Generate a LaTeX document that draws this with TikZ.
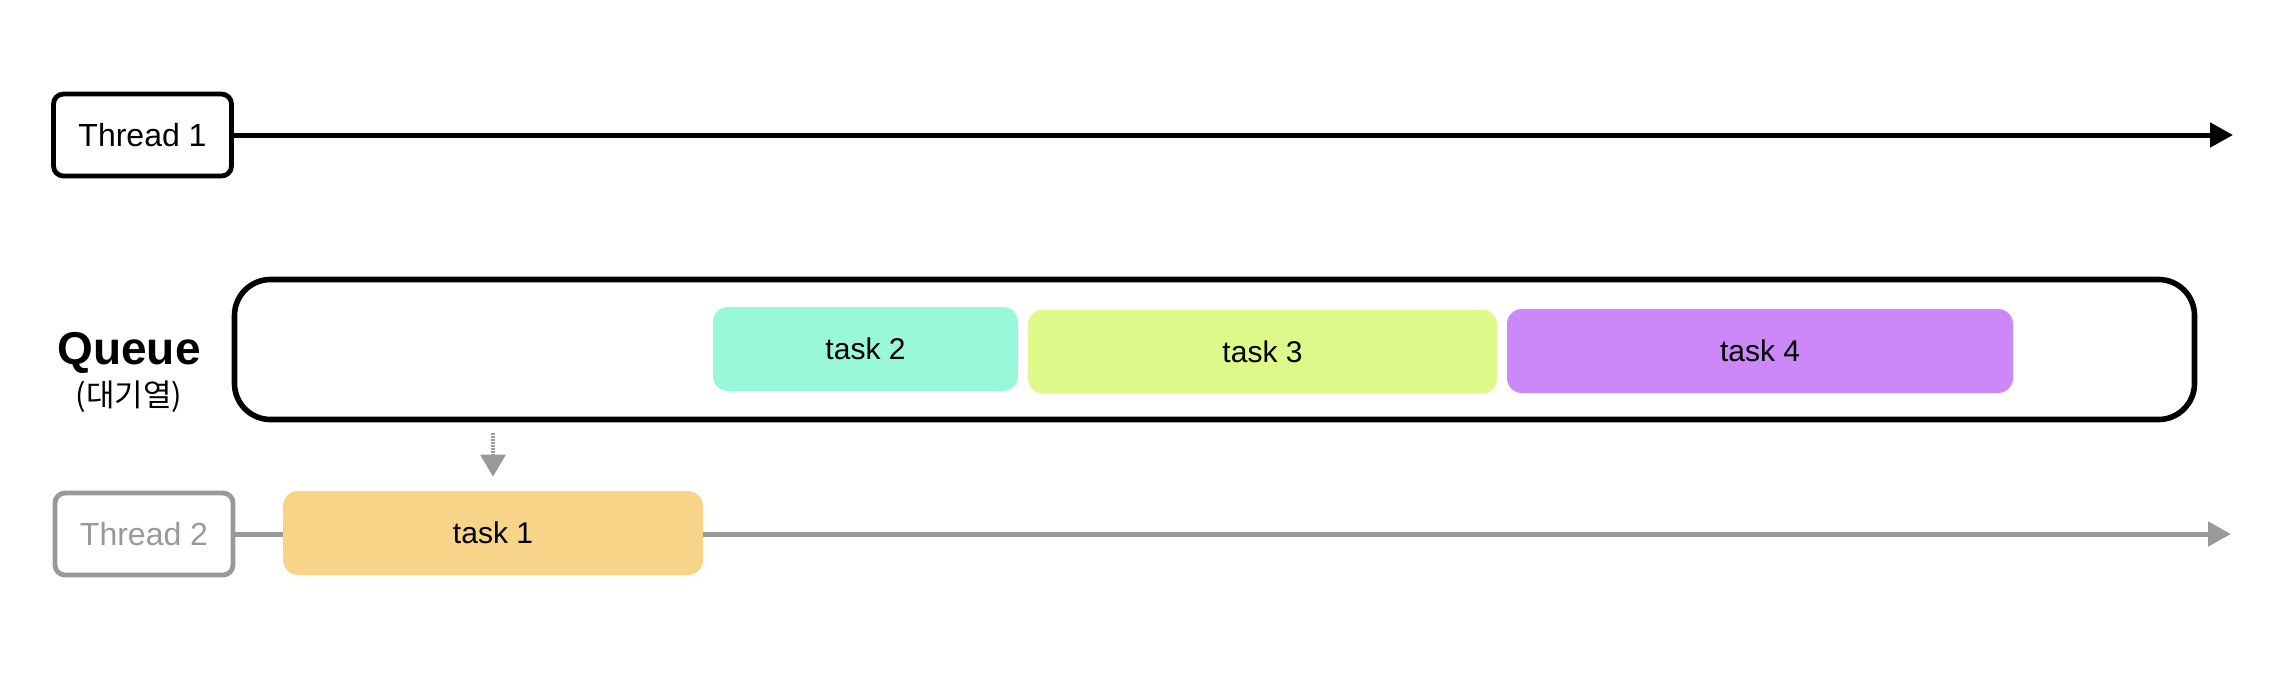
\documentclass[tikz,border=0pt]{standalone}
\usepackage{fontspec}
\setmainfont{Liberation Sans}
\newfontfamily\krfont{Noto Sans CJK KR}
\usetikzlibrary{arrows.meta}
\definecolor{grayc}{HTML}{999999}
\definecolor{taskA}{HTML}{F7D488}
\definecolor{taskB}{HTML}{99F8D9}
\definecolor{taskC}{HTML}{DDF98A}
\definecolor{taskD}{HTML}{CC88F8}
\begin{document}
\begin{tikzpicture}[x=0.5pt,y=-0.5pt,
  threadbox/.style={draw, line width=2.4pt, rounded corners=5pt, fill=white, inner sep=0pt,
    minimum width=89pt, minimum height=41pt, font=\fontsize{16}{19}\selectfont},
  taskbox/.style={rounded corners=7.5pt, inner sep=0pt, minimum height=42pt,
    font=\fontsize{15}{18}\selectfont},
  queuebox/.style={draw, line width=2.8pt, rounded corners=18pt, inner sep=0pt,
    minimum width=980pt, minimum height=70pt},
  timeline/.style={line width=2.5pt, -{Triangle[length=11.5pt,width=12pt]}},
  pulldown/.style={grayc, line width=1.6pt, dash pattern=on 1pt off 0.5pt,
    -{Triangle[length=11pt,width=12.5pt]}}
]
\useasboundingbox (0,0) rectangle (2290,692);

% Thread 1
\node[threadbox] (t1) at (142.5,135) {Thread 1};
\coordinate (end1) at (2233,135);
\draw[timeline] (t1) -- (end1);

% Queue
\node[font=\fontsize{23}{27}\selectfont\bfseries] (qlabel) at (129,353) {Queue};
\node[font=\fontsize{15.5}{18}\selectfont\krfont] (qsub) at (129,397) {(대기열)};
\node[queuebox] (queue) at (1214.5,349.5) {};
\node[taskbox, fill=taskB, minimum width=152.5pt] (task2) at (865.5,349) {task 2};
\node[taskbox, fill=taskC, minimum width=234.5pt] (task3) at (1262.5,351.5) {task 3};
\node[taskbox, fill=taskD, minimum width=253pt] (task4) at (1760,351) {task 4};

% Thread 2
\node[threadbox, draw=grayc, text=grayc] (t2) at (144,534) {Thread 2};
\node[taskbox, fill=taskA, minimum width=210pt] (task1) at (493,533) {task 1};
\coordinate (end2) at (2231,534);
\draw[grayc, line width=2.5pt] (t2.east) -- (t2.east -| task1.west);
\draw[timeline, grayc] (task1.east |- end2) -- (end2);

% pull from queue
\draw[pulldown, shorten <=5.5pt, shorten >=7pt] (queue.south -| task1.north) -- (task1.north);
\end{tikzpicture}
\end{document}
